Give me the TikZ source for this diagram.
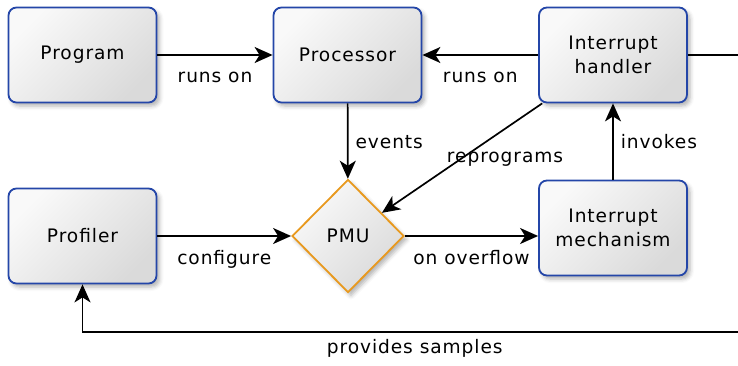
\documentclass[tikz,border=0pt]{standalone}
\usepackage{fontspec}
\setmainfont{DejaVu Sans}[LetterSpace=5]
\usetikzlibrary{arrows.meta,shapes.geometric,shadows.blur}

\definecolor{boxblue}{HTML}{2446A8}
\definecolor{pmuorange}{HTML}{E8991E}
\definecolor{shadetop}{HTML}{F9F9F9}
\definecolor{shadebottom}{HTML}{DADADA}

\begin{document}
\begin{tikzpicture}[x=1pt,y=-1pt,
  font=\fontsize{18.6}{24}\selectfont,
  softshadow/.style={blur shadow={shadow xshift=3pt, shadow yshift=-3.5pt,
      shadow blur radius=4pt, shadow opacity=30}},
  box/.style={draw=boxblue, line width=1.8pt, rounded corners=8pt,
    minimum width=148pt, minimum height=95pt, align=center,
    top color=shadetop, bottom color=shadebottom, shading angle=45,
    softshadow},
  pmubox/.style={diamond, aspect=1, draw=pmuorange, line width=1.8pt,
    minimum width=112pt, minimum height=113pt, inner sep=0pt,
    top color=shadetop, bottom color=shadebottom, shading angle=45,
    softshadow},
  conn/.style={line width=1.7pt, -{Stealth[length=18pt,width=16pt,inset=5pt]}},
  lbl/.style={inner sep=0pt, text height=13pt, text depth=4pt},
  lblbelow/.style={lbl, midway, anchor=base, yshift=-28pt},
  lblright/.style={lbl, midway, anchor=base west, xshift=7pt, yshift=-7pt}]

\clip (0,0) rectangle (738,366);

% blocks
\node[box] (prog) at (82.5,55) {Program};
\node[box] (proc) at (347.5,55) {Processor};
\node[box] (hand) at (613,55) {Interrupt\\handler};
\node[box] (prof) at (82.5,236) {Profiler};
\node[box] (mech) at (613,228) {Interrupt\\mechanism};
\node[pmubox] (pmu) at (348,236) {PMU};

% corners of the feedback loop, beyond the right edge
\coordinate (tr) at (747,55);
\coordinate (br) at (747,332);

% connectors
\draw[conn] (prog) -- node[lblbelow] {runs on} (proc);
\draw[conn] (hand) -- node[lblbelow] {runs on} (proc);
\draw[conn] (proc) -- node[lblright] {events} (pmu);
\draw[conn] (hand) -- node[lbl, midway, anchor=base, xshift=43pt, yshift=-4pt] {reprograms} (pmu);
\draw[conn] (mech) -- node[lblright] {invokes} (hand);
\draw[conn] (prof) -- node[lblbelow] {configure} (pmu);
\draw[conn] (pmu) -- node[lblbelow] {on overflow} (pmu.east -| mech.west);
\draw[conn] (hand) -- (tr) -- (br)
  -- node[lbl, midway, anchor=base, yshift=-21pt] {provides samples} (br -| prof)
  -- (prof);
\end{tikzpicture}
\end{document}
